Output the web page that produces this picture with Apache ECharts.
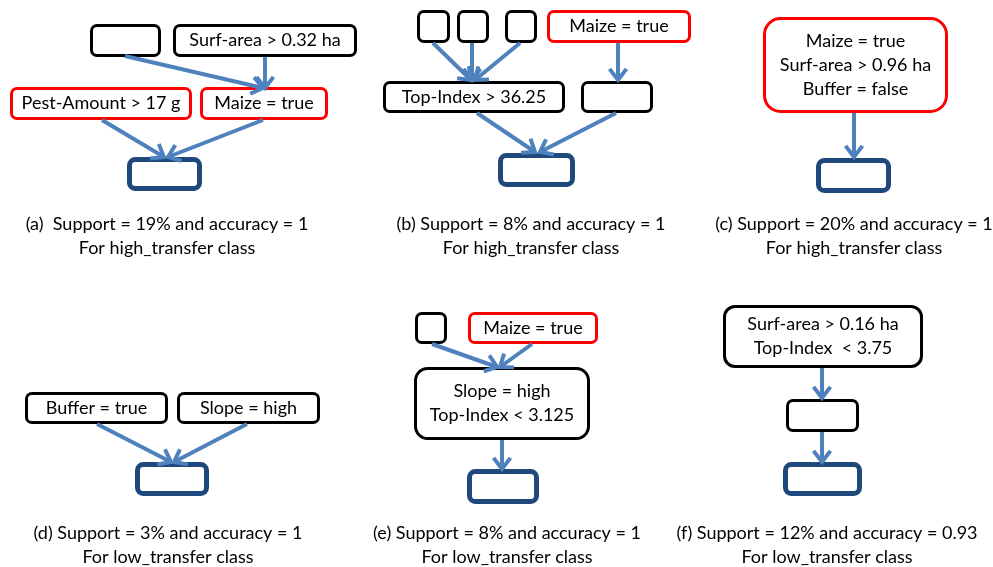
<!DOCTYPE html>
<html><head><meta charset="utf-8">
<script src="https://cdn.jsdelivr.net/npm/echarts@6/dist/echarts.min.js"></script>
<style>html,body{margin:0;padding:0;background:#fff}#c{width:993px;height:567px}</style>
</head><body><div id="c"></div>
<script>
// ---- content ----
const boxLabels = [
  '', 'Surf-area > 0.32 ha', 'Pest-Amount > 17 g', 'Maize = true', '',
  '', '', '', 'Maize = true', 'Top-Index > 36.25', '', '',
  'Maize = true\nSurf-area > 0.96 ha\nBuffer = false', '',
  'Buffer = true', 'Slope = high', '',
  '', 'Maize = true', 'Slope = high\nTop-Index < 3.125', '',
  'Surf-area > 0.16 ha\nTop-Index  < 3.75', '', ''
];
const boxKinds = [
  'plain', 'plain', 'red', 'red', 'target',
  'plain', 'plain', 'plain', 'red', 'plain', 'plain', 'target',
  'red', 'target',
  'plain', 'plain', 'target',
  'plain', 'red', 'plain', 'target',
  'plain', 'plain', 'target'
];
const edges = [
  [0, 3], [1, 3], [2, 4], [3, 4],
  [5, 9], [6, 9], [7, 9], [8, 10], [9, 11], [10, 11],
  [12, 13],
  [14, 16], [15, 16],
  [17, 19], [18, 19], [19, 20],
  [21, 22], [22, 23]
];
const captions = [
  ['(a)  Support = 19% and accuracy = 1', 'For high_transfer class'],
  ['(b) Support = 8% and accuracy = 1', 'For high_transfer class'],
  ['(c) Support = 20% and accuracy = 1', 'For high_transfer class'],
  ['(d) Support = 3% and accuracy = 1', 'For low_transfer class'],
  ['(e) Support = 8% and accuracy = 1', 'For low_transfer class'],
  ['(f) Support = 12% and accuracy = 0.93', 'For low_transfer class']
];

// ---- layout (diagram coordinates) ----
const boxRects = [
  [90, 24, 161, 57], [173, 24, 357, 57], [10, 87, 192, 120], [200, 87, 328, 120], [127, 157, 202, 191],
  [417, 10, 450, 43], [457, 10, 489, 43], [505, 10, 537, 43], [547, 10, 691, 43], [383, 81, 565, 113], [581, 81, 653, 113], [498, 153, 575, 187],
  [763, 17, 948, 113], [816, 158, 891, 193],
  [25, 392, 168, 424], [177, 392, 320, 424], [135, 462, 209, 496],
  [415, 312, 447, 344], [468, 312, 598, 344], [414, 367, 590, 440], [467, 469, 539, 504],
  [723, 305, 923, 368], [786, 399, 859, 432], [783, 462, 862, 496]
];
const arrowPaths = [
  [125, 56, 263, 88], [265, 57, 265, 88], [102, 120, 164, 157], [263, 120, 168, 157],
  [433, 43, 471, 80], [472, 43, 472, 80], [520, 43, 475, 80], [618, 43, 618, 80], [477, 113, 535, 152], [616, 113, 540, 152],
  [854, 113, 854, 157],
  [97, 424, 171, 462], [247, 424, 174, 462],
  [432, 344, 497, 367], [532, 344, 500, 367], [502, 440, 502, 469],
  [822, 368, 822, 398], [822, 432, 822, 462]
];
const captionPos = [[167, 224], [531, 224], [854, 224], [168, 533], [507, 533], [827, 533]];

const FONT_FAMILY = 'Lato';
const FONT_SIZE = 18;
const kindStyle = {
  plain: { stroke: '#000000', lineWidth: 3 },
  red: { stroke: '#FF0000', lineWidth: 3 },
  target: { stroke: '#1F497D', lineWidth: 5 }
};
const ARROW_COLOR = '#4F81BD';

const chart = echarts.init(document.getElementById('c'), null, { renderer: 'canvas' });

const boxData = boxRects.map((r, i) => ({ value: r, name: boxLabels[i] }));
const arrowData = edges.map((e, i) => ({ value: arrowPaths[i], name: e.join('->') }));
const captionData = captions.map((c, i) => ({ value: captionPos[i], name: c.join('\n') }));

chart.setOption({
  animation: false,
  grid: { left: 0, right: 0, top: 0, bottom: 0 },
  xAxis: { type: 'value', min: 0, max: 993, show: false },
  yAxis: { type: 'value', min: 0, max: 567, inverse: true, show: false },
  series: [
    {
      type: 'custom', clip: false, silent: true, z: 3,
      data: boxData,
      dimensions: ['x0', 'y0', 'x1', 'y1'],
      encode: { x: [0, 2], y: [1, 3] },
      renderItem: function (params, api) {
        const i = params.dataIndex;
        const p0 = api.coord([api.value(0), api.value(1)]);
        const p1 = api.coord([api.value(2), api.value(3)]);
        const st = kindStyle[boxKinds[i]];
        const w = p1[0] - p0[0], h = p1[1] - p0[1];
        const hw = st.lineWidth / 2;
        const r = Math.min(w, h) * 0.1667;
        return {
          type: 'group',
          children: [
            {
              type: 'rect',
              shape: { x: p0[0] + hw, y: p0[1] + hw, width: w - 2 * hw, height: h - 2 * hw, r: r },
              style: { fill: '#fff', stroke: st.stroke, lineWidth: st.lineWidth }
            },
            {
              type: 'text',
              style: {
                text: boxLabels[i], x: (p0[0] + p1[0]) / 2, y: (p0[1] + p1[1]) / 2,
                align: 'center', verticalAlign: 'middle',
                fontFamily: FONT_FAMILY, fontSize: FONT_SIZE, lineHeight: 24, fill: '#000'
              }
            }
          ]
        };
      }
    },
    {
      type: 'custom', clip: false, silent: true, z: 4,
      data: arrowData,
      dimensions: ['x0', 'y0', 'x1', 'y1'],
      encode: { x: [0, 2], y: [1, 3] },
      renderItem: function (params, api) {
        const a = api.coord([api.value(0), api.value(1)]);
        const b = api.coord([api.value(2), api.value(3)]);
        const ang = Math.atan2(b[1] - a[1], b[0] - a[0]);
        const L = 14, spread = 0.65;
        const l = [b[0] - L * Math.cos(ang - spread), b[1] - L * Math.sin(ang - spread)];
        const rr = [b[0] - L * Math.cos(ang + spread), b[1] - L * Math.sin(ang + spread)];
        const st = { stroke: ARROW_COLOR, lineWidth: 4, fill: null };
        return {
          type: 'group',
          children: [
            { type: 'line', shape: { x1: a[0], y1: a[1], x2: b[0], y2: b[1] }, style: st },
            { type: 'polyline', shape: { points: [l, b, rr] }, style: st }
          ]
        };
      }
    },
    {
      type: 'custom', clip: false, silent: true, z: 5,
      data: captionData,
      renderItem: function (params, api) {
        const p = api.coord([api.value(0), api.value(1)]);
        return {
          type: 'text',
          style: {
            text: captions[params.dataIndex].join('\n'), x: p[0], y: p[1] - 12,
            align: 'center', verticalAlign: 'top',
            fontFamily: FONT_FAMILY, fontSize: FONT_SIZE, lineHeight: 24, fill: '#000'
          }
        };
      }
    }
  ]
});
</script>
</body></html>
